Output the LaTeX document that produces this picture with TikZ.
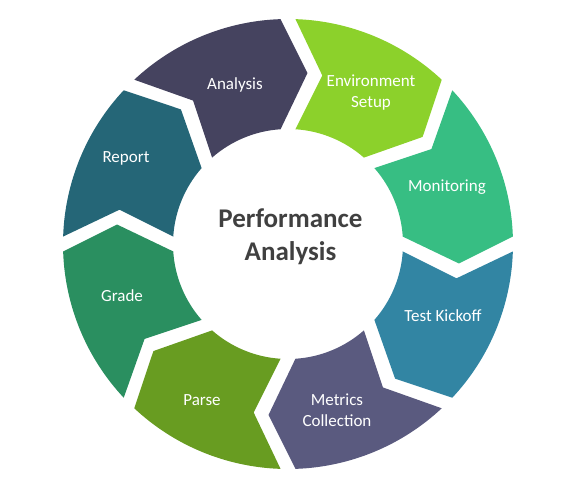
\documentclass[tikz,border=0pt]{standalone}
\usepackage{fontspec}
\setmainfont{Carlito}
\definecolor{cAnalysis}{HTML}{45435F}
\definecolor{cEnv}{HTML}{8CD12B}
\definecolor{cMon}{HTML}{37BE83}
\definecolor{cTest}{HTML}{3285A3}
\definecolor{cMetrics}{HTML}{5A5A7F}
\definecolor{cParse}{HTML}{689C21}
\definecolor{cGrade}{HTML}{2A8F60}
\definecolor{cReport}{HTML}{256677}
\definecolor{cCenter}{HTML}{404040}
\newcommand{\Ro}{225}
\newcommand{\Ri}{115}
\newcommand{\Rm}{172}
\newcommand{\go}{1.9}
\newcommand{\gi}{3.7}
\newcommand{\gm}{2.5}
\newcommand{\dl}{9}
% #1 = leading (smaller) angle, #2 = colour
\newcommand{\chevseg}[2]{%
  \pgfmathsetmacro{\aA}{#1}%
  \pgfmathsetmacro{\aB}{#1+45}%
  \fill[#2] ({\aB-\go}:\Ro pt) -- ({\aB-\gm-\dl}:\Rm pt) -- ({\aB-\gi}:\Ri pt)
    arc[start angle={\aB-\gi}, end angle={\aA+\gi}, radius=\Ri pt]
    -- ({\aA+\gm-\dl}:\Rm pt) -- ({\aA+\go}:\Ro pt)
    arc[start angle={\aA+\go}, end angle={\aB-\go}, radius=\Ro pt] -- cycle;}
\tikzset{
  seglabel/.style={text=white, font=\fontsize{17}{20.5}\selectfont, align=center},
  centerlabel/.style={text=cCenter, font=\bfseries\fontsize{27}{33}\selectfont, align=center}
}
\begin{document}
\begin{tikzpicture}[x=1pt,y=1pt]
\useasboundingbox (-288,-247) rectangle (282,244);
\chevseg{90}{cAnalysis}
\chevseg{45}{cEnv}
\chevseg{0}{cMon}
\chevseg{-45}{cTest}
\chevseg{-90}{cMetrics}
\chevseg{-135}{cParse}
\chevseg{180}{cGrade}
\chevseg{135}{cReport}
\node[seglabel] (analysis) at (-53,159) {Analysis};
\node[seglabel] (env) at (83,151.5) {Environment\\Setup};
\node[seglabel] (mon) at (159,57) {Monitoring};
\node[seglabel] (test) at (155,-72) {Test Kickoff};
\node[seglabel] (metrics) at (49,-166) {Metrics\\Collection};
\node[seglabel] (parse) at (-86,-156) {Parse};
\node[seglabel] (grade) at (-166,-52) {Grade};
\node[seglabel] (report) at (-162,86) {Report};
\node[centerlabel] (center) at (2.5,7) {Performance\\Analysis};
\end{tikzpicture}
\end{document}
